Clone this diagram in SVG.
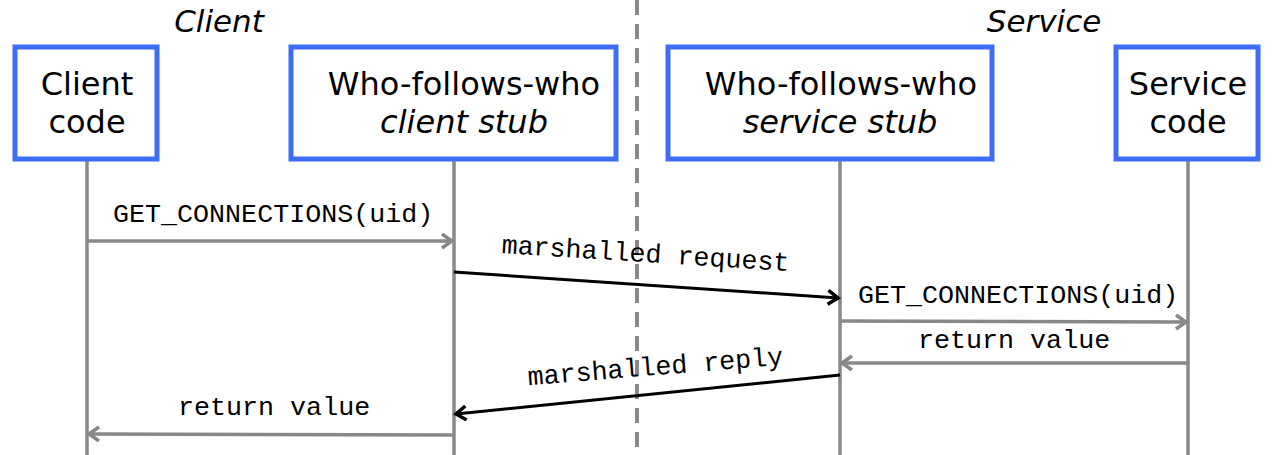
<svg xmlns="http://www.w3.org/2000/svg" width="1282" height="455" viewBox="0 0 1282 455">
<style>
.box{fill:#fff;stroke:#3d6cf7;stroke-width:5}
.lbl{font-family:"DejaVu Sans",Verdana,sans-serif;font-size:32px;fill:#000;text-anchor:middle}
.it{font-style:italic}
.hdr{font-family:"DejaVu Sans",Verdana,sans-serif;font-size:31px;font-style:italic;fill:#000;text-anchor:middle}
.life{stroke:#888;stroke-width:3.5;fill:none}
.msg{stroke:#888;stroke-width:3.5;fill:none;marker-end:url(#ga)}
.bmsg{stroke:#000;stroke-width:3;fill:none;marker-end:url(#ba)}
.mono{font-family:"Liberation Mono","Courier New",monospace;font-size:26.7px;fill:#000}
</style>
<defs>
<marker id="ga" markerUnits="userSpaceOnUse" markerWidth="16" markerHeight="18" refX="12" refY="8" orient="auto" viewBox="0 0 16 18">
<path d="M2,1 L12,8 L2,15" fill="none" stroke="#888" stroke-width="3.5"/>
</marker>
<marker id="ba" markerUnits="userSpaceOnUse" markerWidth="16" markerHeight="18" refX="12" refY="8" orient="auto" viewBox="0 0 16 18">
<path d="M2,1 L12,8 L2,15" fill="none" stroke="#000" stroke-width="3.5"/>
</marker>
</defs>
<line x1="637" y1="0" x2="637" y2="455" stroke="#888" stroke-width="4" stroke-dasharray="15,9"/>
<text class="hdr" x="219" y="32">Client</text>
<text class="hdr" x="1044" y="32">Service</text>
<g id="client-code">
<line class="life" x1="87" y1="160" x2="87" y2="455"/>
<rect class="box" x="15" y="47" width="142" height="112"/>
<text class="lbl" x="87" y="95">Client</text>
<text class="lbl" x="87" y="133">code</text>
</g>
<g id="client-stub">
<line class="life" x1="454" y1="160" x2="454" y2="455"/>
<rect class="box" x="291" y="47" width="325" height="112"/>
<text class="lbl" x="464" y="95">Who-follows-who</text>
<text class="lbl it" x="464" y="133">client stub</text>
</g>
<g id="service-stub">
<line class="life" x1="840" y1="160" x2="840" y2="455"/>
<rect class="box" x="668" y="47" width="324" height="112"/>
<text class="lbl" x="841" y="95">Who-follows-who</text>
<text class="lbl it" x="840" y="133">service stub</text>
</g>
<g id="service-code">
<line class="life" x1="1188" y1="160" x2="1188" y2="455"/>
<rect class="box" x="1116" y="47" width="142" height="112"/>
<text class="lbl" x="1188" y="95">Service</text>
<text class="lbl" x="1188" y="133">code</text>
</g>
<g id="connectors">
<line class="msg" x1="87" y1="241" x2="452" y2="241"/>
<text class="mono" x="113" y="222">GET_CONNECTIONS(uid)</text>
<line class="bmsg" x1="454" y1="272" x2="838" y2="298"/>
<text class="mono" x="645" y="262" text-anchor="middle" transform="rotate(3.6 645 262)">marshalled request</text>
<line class="msg" x1="840" y1="321" x2="1186" y2="322"/>
<text class="mono" x="858" y="303">GET_CONNECTIONS(uid)</text>
<line class="msg" x1="1188" y1="363" x2="842" y2="363"/>
<text class="mono" x="918" y="348">return value</text>
<line class="bmsg" x1="840" y1="375" x2="456" y2="414"/>
<text class="mono" x="656" y="375" text-anchor="middle" transform="rotate(-4.6 656 375)">marshalled reply</text>
<line class="msg" x1="454" y1="435" x2="89" y2="434"/>
<text class="mono" x="178" y="415">return value</text>
</g>
</svg>
